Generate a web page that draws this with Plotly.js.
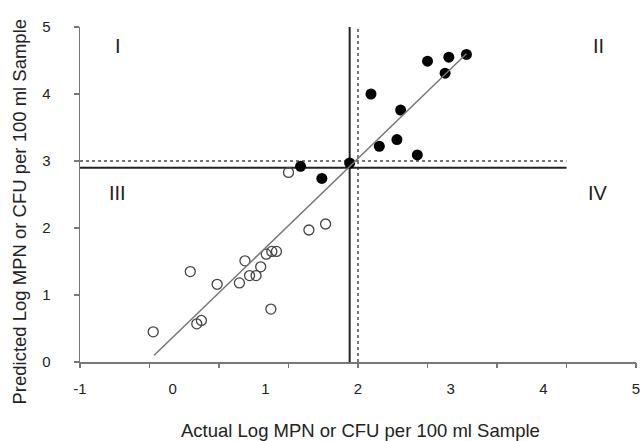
<!DOCTYPE html>
<html>
<head>
<meta charset="utf-8">
<script src="https://cdn.plot.ly/plotly-3.0.1.min.js"></script>
<style>html,body{margin:0;padding:0;background:#fff;}#chart{width:640px;height:441px;}</style>
</head>
<body>
<div id="chart"></div>
<script>
// Open circles (quadrant III)
const openX = [-0.21, 0.19, 0.26, 0.31, 0.48, 0.72, 0.78, 0.83, 0.90, 0.95, 1.01, 1.07, 1.12, 1.06, 1.47, 1.65, 1.25];
const openY = [0.45, 1.35, 0.57, 0.62, 1.16, 1.18, 1.51, 1.29, 1.29, 1.42, 1.61, 1.65, 1.65, 0.79, 1.97, 2.06, 2.83];
// Filled circles
const filledX = [1.38, 1.61, 1.91, 2.14, 2.23, 2.42, 2.46, 2.64, 2.75, 2.94, 2.98, 3.17];
const filledY = [2.92, 2.74, 2.97, 4.00, 3.22, 3.32, 3.76, 3.09, 4.49, 4.31, 4.55, 4.59];
// Regression line endpoints
const fitX = [-0.20, 3.17];
const fitY = [0.10, 4.60];
// Thresholds
const solidActual = 1.91, solidPredicted = 2.90;
const dottedActual = 2.0, dottedPredicted = 3.0;
const hLineX = [-1, 4.25];
const vLineY = [0, 5];
// Tick labels
const xTickVals = [-1, 0, 1, 2, 3, 4, 5];
const xTickText = ['-1', '0', '1', '2', '3', '4', '5'];
const yTickVals = [0, 1, 2, 3, 4, 5];
const quadLabels = ['I', 'II', 'III', 'IV'];
const xTitle = 'Actual Log MPN or CFU per 100 ml Sample';
const yTitle = 'Predicted Log MPN or CFU per 100 ml Sample';

const traces = [
  {x: hLineX, y: [dottedPredicted, dottedPredicted], mode: 'lines', line: {color: '#777', width: 2, dash: 'dot'}, hoverinfo: 'skip'},
  {x: [dottedActual, dottedActual], y: vLineY, mode: 'lines', line: {color: '#777', width: 2, dash: 'dot'}, hoverinfo: 'skip'},
  {x: hLineX, y: [solidPredicted, solidPredicted], mode: 'lines', line: {color: '#222', width: 2}, hoverinfo: 'skip'},
  {x: [solidActual, solidActual], y: vLineY, mode: 'lines', line: {color: '#222', width: 2}, hoverinfo: 'skip'},
  {x: fitX, y: fitY, mode: 'lines', xaxis: 'x2', line: {color: '#777', width: 1.5}, hoverinfo: 'skip'},
  {x: openX, y: openY, mode: 'markers', marker: {symbol: 'circle-open', size: 10, color: '#444', line: {width: 1.3}}},
  {x: filledX, y: filledY, mode: 'markers', marker: {symbol: 'circle', size: 11, color: '#000'}}
];

const fam = 'Liberation Sans, Arial, sans-serif';
const annPos = [[-0.59, 4.72], [4.60, 4.72], [-0.60, 2.52], [4.59, 2.52]];
const annotations = quadLabels.map((t, i) => ({
  x: annPos[i][0], y: annPos[i][1], xref: 'x', yref: 'y', text: t, showarrow: false,
  font: {family: fam, size: 20, color: '#222'}
}));
annotations.push({
  xref: 'paper', yref: 'paper', x: 0.504, y: -0.203, xanchor: 'center', yanchor: 'middle',
  text: xTitle, showarrow: false, font: {family: fam, size: 18.5, color: '#222'}
});
annotations.push({
  xref: 'paper', yref: 'paper', x: -0.108, y: 0.449, xanchor: 'center', yanchor: 'middle',
  text: yTitle, textangle: -90, showarrow: false, font: {family: fam, size: 18.5, color: '#222'}
});

const layout = {
  width: 640, height: 441,
  margin: {l: 80, r: 4, t: 27, b: 79},
  paper_bgcolor: '#fff', plot_bgcolor: '#fff',
  showlegend: false,
  font: {family: fam, color: '#222'},
  xaxis: {
    range: [-1, 5], fixedrange: true, showgrid: false, zeroline: false,
    showline: true, linecolor: '#777', linewidth: 1.5,
    tickmode: 'array', tickvals: xTickVals, ticktext: xTickText, ticks: '',
    ticklabeloverflow: 'allow',
    tickfont: {size: 15, color: '#222'}, ticklabelstandoff: 12
  },
  xaxis2: {
    range: [-1, 5], fixedrange: true, overlaying: 'x', anchor: 'y', side: 'bottom',
    showgrid: false, zeroline: false, showline: false, showticklabels: false,
    tickmode: 'linear', tick0: -1, dtick: 0.75, ticks: 'outside', ticklen: 5, tickwidth: 1.5, tickcolor: '#777'
  },
  yaxis: {
    range: [0, 5], fixedrange: true, showgrid: false, zeroline: false,
    showline: true, linecolor: '#777', linewidth: 1.5,
    tickmode: 'array', tickvals: yTickVals, ticks: 'outside', ticklen: 5, tickwidth: 1.5, tickcolor: '#777',
    tickfont: {size: 15, color: '#222'}, ticklabelstandoff: 20
  },
  annotations: annotations
};

Plotly.newPlot('chart', traces, layout, {staticPlot: true, displayModeBar: false});
</script>
</body>
</html>
